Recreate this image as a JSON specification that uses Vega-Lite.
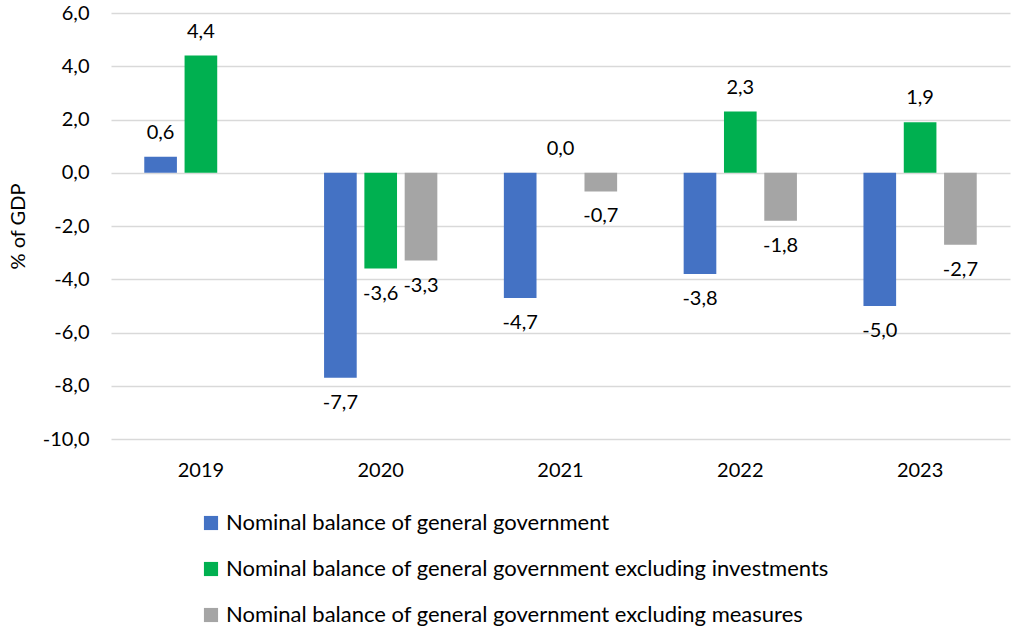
{
  "$schema": "https://vega.github.io/schema/vega-lite/v6.json",
  "width": 899,
  "height": 426,
  "autosize": {"type": "none"},
  "padding": {"left": 111, "top": 13, "right": 2, "bottom": 189},
  "config": {
    "locale": {"number": {"decimal": ",", "thousands": ".", "grouping": [3], "currency": ["", " €"], "minus": "-"}},
    "view": {"stroke": null},
    "font": "Lato"
  },
  "data": {
    "values": [
      {"year": "2019", "series": "Nominal balance of general government", "value": 0.6},
      {"year": "2019", "series": "Nominal balance of general government excluding investments", "value": 4.4},
      {"year": "2020", "series": "Nominal balance of general government", "value": -7.7},
      {"year": "2020", "series": "Nominal balance of general government excluding investments", "value": -3.6},
      {"year": "2020", "series": "Nominal balance of general government excluding measures", "value": -3.3},
      {"year": "2021", "series": "Nominal balance of general government", "value": -4.7},
      {"year": "2021", "series": "Nominal balance of general government excluding investments", "value": 0.0},
      {"year": "2021", "series": "Nominal balance of general government excluding measures", "value": -0.7},
      {"year": "2022", "series": "Nominal balance of general government", "value": -3.8},
      {"year": "2022", "series": "Nominal balance of general government excluding investments", "value": 2.3},
      {"year": "2022", "series": "Nominal balance of general government excluding measures", "value": -1.8},
      {"year": "2023", "series": "Nominal balance of general government", "value": -5.0},
      {"year": "2023", "series": "Nominal balance of general government excluding investments", "value": 1.9},
      {"year": "2023", "series": "Nominal balance of general government excluding measures", "value": -2.7}
    ]
  },
  "encoding": {
    "x": {
      "field": "year", "type": "nominal",
      "scale": {"paddingInner": 0.37, "paddingOuter": 0.185},
      "axis": {"title": null, "labelAngle": 0, "domain": false, "ticks": false, "grid": false, "labelPadding": 21, "labelFontSize": 20, "labelColor": "#000000"}
    },
    "xOffset": {
      "field": "series", "type": "nominal",
      "scale": {"domain": ["Nominal balance of general government", "Nominal balance of general government excluding investments", "Nominal balance of general government excluding measures"], "paddingInner": 0.19, "paddingOuter": 0}
    },
    "y": {
      "field": "value", "type": "quantitative",
      "scale": {"domain": [-10, 6], "nice": false, "zero": true},
      "axis": {"values": [-10, -8, -6, -4, -2, 0, 2, 4, 6], "format": ".1f", "gridColor": "#D9D9D9", "gridWidth": 1.5, "domain": false, "ticks": false, "labelFontSize": 20, "labelColor": "#000000", "labelPadding": 22, "title": "% of GDP", "titleFontSize": 20, "titleFontWeight": "normal", "titleColor": "#000000", "titlePadding": 14}
    }
  },
  "layer": [
    {
      "mark": {"type": "bar"},
      "encoding": {
        "color": {
          "field": "series", "type": "nominal",
          "scale": {"domain": ["Nominal balance of general government", "Nominal balance of general government excluding investments", "Nominal balance of general government excluding measures"], "range": ["#4472C4", "#00B050", "#A5A5A5"]},
          "legend": {"title": null, "orient": "none", "legendX": 89, "legendY": 499, "direction": "vertical", "symbolType": "square", "symbolSize": 200, "symbolStrokeWidth": 0, "labelFontSize": 22, "labelColor": "#000000", "labelLimit": 1000, "rowPadding": 24, "labelOffset": 4}
        }
      }
    },
    {
      "transform": [{"filter": "datum.value >= 0"}],
      "mark": {"type": "text", "dy": -24, "fontSize": 20, "color": "#000000", "baseline": "middle"},
      "encoding": {"text": {"field": "value", "type": "quantitative", "format": ".1f"}}
    },
    {
      "transform": [{"filter": "datum.value < 0"}],
      "mark": {"type": "text", "dy": 25, "fontSize": 20, "color": "#000000", "baseline": "middle"},
      "encoding": {"text": {"field": "value", "type": "quantitative", "format": ".1f"}}
    }
  ]
}
